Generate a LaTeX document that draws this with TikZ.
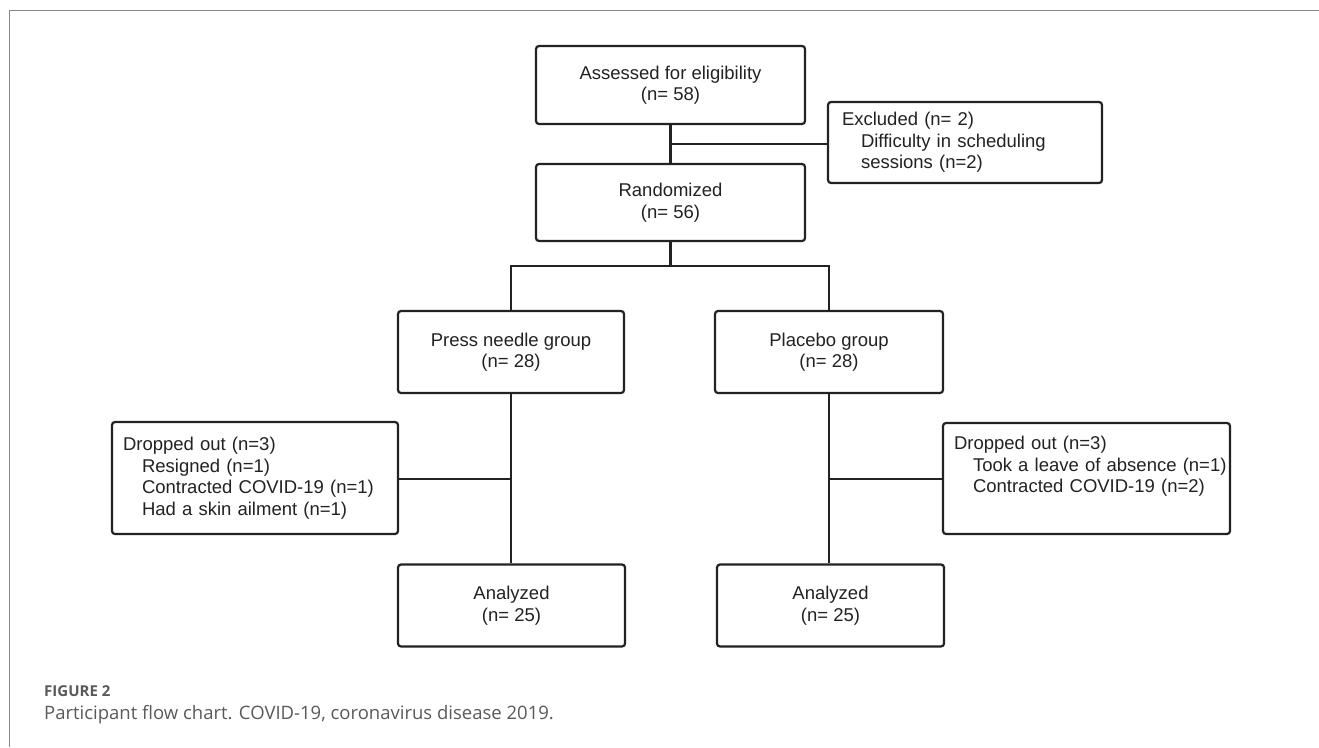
\documentclass[tikz,border=0pt]{standalone}
\usepackage{fontspec}
\setmainfont{Liberation Sans}
\newfontfamily\capfont{Open Sans}
\definecolor{linec}{HTML}{222222}
\definecolor{framec}{HTML}{858585}
\definecolor{capc}{HTML}{5A5A5A}
\begin{document}
\begin{tikzpicture}[x=1pt,y=-1pt,
  box/.style={draw=linec, line width=2.2pt, rounded corners=3pt, fill=white,
    text=linec, font=\fontsize{18.5}{21.5}\selectfont},
  cbox/.style={box, align=center, inner sep=0pt},
  lbox/.style={box, align=left, inner ysep=0pt},
  conn/.style={draw=linec, line width=2.2pt},
  capstyle/.style={anchor=base west, inner sep=0pt, text=capc}]
\useasboundingbox (0,0) rectangle (1319,747);
\fill[white] (0,0) rectangle (1319,747);
% frame
\draw[framec, line width=1.5pt] (9.5,747) -- (9.5,10.5) -- (1319,10.5);

% boxes
\node[cbox, minimum width=269pt, minimum height=78pt] (A) at (670.5,85)
  {Assessed for eligibility\\(n= 58)};
\node[cbox, minimum width=269pt, minimum height=77pt] (R) at (670.5,202.5)
  {Randomized\\(n= 56)};
\node[lbox, inner xsep=14pt, text width=246pt, minimum height=81pt] (E) at (965,142.5)
  {\mbox{Excluded (n= 2)}\\\mbox{\hspace*{19pt}Difficulty in scheduling}\\\mbox{\hspace*{19pt}sessions (n=2)}};
\node[cbox, minimum width=226pt, minimum height=82pt] (P) at (511,352)
  {Press needle group\\(n= 28)};
\node[cbox, minimum width=228pt, minimum height=82pt] (Q) at (829,352)
  {Placebo group\\(n= 28)};
\node[lbox, inner xsep=11pt, text width=264pt, minimum height=112pt] (DL) at (255,478)
  {\mbox{Dropped out (n=3)}\\\mbox{\hspace*{19pt}Resigned (n=1)}\\\mbox{\hspace*{19pt}Contracted COVID-19 (n=1)}\\\mbox{\hspace*{19pt}Had a skin ailment (n=1)}};
\node[lbox, inner xsep=11pt, text width=265pt, minimum height=111pt] (DR) at (1086.5,478.5)
  {\mbox{Dropped out (n=3)}\\\mbox{\hspace*{19pt}Took a leave of absence (n=1)}\\\mbox{\hspace*{19pt}Contracted COVID-19 (n=2)}\\\mbox{\strut}};
\node[cbox, minimum width=227pt, minimum height=82pt] (AL) at (511.5,605.5)
  {Analyzed\\(n= 25)};
\node[cbox, minimum width=227pt, minimum height=82pt] (AR) at (830.5,605.5)
  {Analyzed\\(n= 25)};

% connectors
\coordinate (j1) at (670.5,144);
\coordinate (s) at (670.5,266);
\coordinate (jl) at (511,479);
\coordinate (jr) at (829,479);
\draw[conn] (A.south) -- (R.north);
\draw[conn] (j1) -- (j1 -| E.west);
\draw[conn] (R.south) -- (s);
\draw[conn] (P.north) -- (P.north |- s) -- (Q.north |- s) -- (Q.north);
\draw[conn] (P.south) -- (P.south |- AL.north);
\draw[conn] (jl) -- (jl -| DL.east);
\draw[conn] (Q.south) -- (Q.south |- AR.north);
\draw[conn] (jr) -- (jr -| DR.west);

% caption
\node[capstyle, font=\capfont\fontsize{15}{17}\selectfont\bfseries] (fig) at (44,696) {FIGURE 2};
\node[capstyle, font=\capfont\fontsize{18.5}{21}\selectfont] (cap) at (44,719)
  {Participant flow chart. COVID-19, coronavirus disease 2019.};
\end{tikzpicture}
\end{document}
